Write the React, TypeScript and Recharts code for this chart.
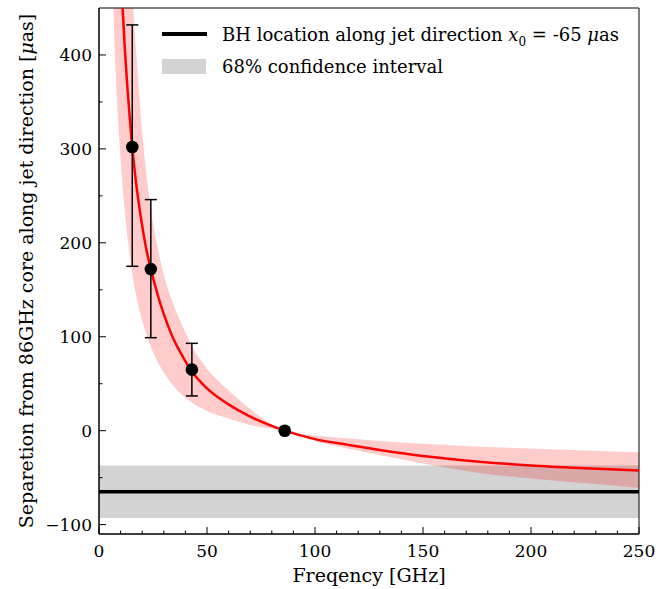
import {
  ComposedChart,
  XAxis,
  YAxis,
  Area,
  Line,
  Scatter,
  ErrorBar,
  ReferenceArea,
  Legend,
} from "recharts";

const SERIF = '"DejaVu Serif", serif';

// 68% band of the core-shift fit
const bandFreq = [6, 7, 8, 9, 10, 11, 12, 13, 14, 15, 16, 17, 18, 20, 22, 24, 27, 30, 34, 38, 43, 50, 60, 70, 86, 100, 115, 130, 150, 176, 200, 225, 250];
const bandLower = [510, 425, 365, 325, 290, 258, 232, 210, 190, 172, 158, 146, 135, 117, 102, 89, 74, 62, 49, 39, 30, 21, 13, 6, 0, -11, -19, -26, -35, -45, -51, -56, -61];
const bandUpper = [1400, 1180, 1010, 880, 780, 700, 640, 585, 535, 490, 448, 410, 378, 318, 272, 236, 196, 166, 137, 115, 90, 66, 43, 23, 0, -5, -8, -11, -14, -17, -19, -21, -23];

// best-fit curve
const fitFreq = [10, 11, 12, 13, 14, 15, 16, 17, 18, 20, 22, 24, 27, 30, 34, 38, 43, 50, 60, 70, 86, 100, 115, 130, 150, 176, 200, 225, 250];
const fitSep = [495, 447, 405, 370, 340, 312, 288, 267, 249, 218, 192, 172, 146, 124, 100, 82, 63, 45, 28, 15, 0, -9, -15, -20.5, -27, -33, -37, -40, -42.5];

// measured core positions
const obsFreq = [15.4, 24, 43, 86];
const obsSep = [302, 172, 65, 0];
const obsErrLow = [127, 73, 28, 0];
const obsErrHigh = [130, 74, 28, 0];

// BH location
const bhFreq = [0, 250];
const bhX0 = -65;
const bhLow = -93;
const bhHigh = -37;

const xTicks = [0, 10, 20, 30, 40, 50, 60, 70, 80, 90, 100, 110, 120, 130, 140, 150, 160, 170, 180, 190, 200, 210, 220, 230, 240, 250];
const yTicks = [-100, -50, 0, 50, 100, 150, 200, 250, 300, 350, 400];

const bandData = bandFreq.map((nu, i) => ({ nu, band: [bandLower[i], bandUpper[i]] }));
const fitData = fitFreq.map((nu, i) => ({ nu, sep: fitSep[i] }));
const obsData = obsFreq.map((nu, i) => ({ nu, sep: obsSep[i], err: [obsErrLow[i], obsErrHigh[i]] }));
const bhBandData = bhFreq.map((nu) => ({ nu, band: [bhLow, bhHigh] }));
const bhLineData = bhFreq.map((nu) => ({ nu, sep: bhX0 }));

const fmt = (v: number) => String(v).replace("-", "\u2212");

const XTick = (props: any) => {
  const { x, y, payload } = props;
  const major = payload.value % 50 === 0;
  return (
    <g>
      <line x1={x} x2={x} y1={y} y2={y - (major ? 7 : 3.5)} stroke="#000" strokeWidth={1} />
      {major && (
        <text x={x} y={y + 23} textAnchor="middle" fontFamily={SERIF} fontSize={17} fill="#000">
          {fmt(payload.value)}
        </text>
      )}
    </g>
  );
};

const YTick = (props: any) => {
  const { x, y, payload } = props;
  const major = payload.value % 100 === 0;
  return (
    <g>
      <line x1={x} x2={x + (major ? 7 : 3.5)} y1={y} y2={y} stroke="#000" strokeWidth={1} />
      {major && (
        <text x={x - 7} y={y} dy="0.35em" textAnchor="end" fontFamily={SERIF} fontSize={17} fill="#000">
          {fmt(payload.value)}
        </text>
      )}
    </g>
  );
};

const XTitle = (props: any) => {
  const vb = props.viewBox || { x: 99, y: 534, width: 540, height: 55 };
  return (
    <text x={vb.x + vb.width / 2} y={vb.y + 48} textAnchor="middle" fontFamily={SERIF} fontSize={19} fill="#000">
      Freqency [GHz]
    </text>
  );
};

const YTitle = (props: any) => {
  const vb = props.viewBox || { x: 0, y: 8, width: 99, height: 526 };
  const cx = vb.x + 33;
  const cy = vb.y + vb.height / 2;
  return (
    <text x={cx} y={cy} transform={`rotate(-90, ${cx}, ${cy})`} textAnchor="middle" fontFamily={SERIF} fontSize={19} fill="#000">
      Separetion from 86GHz core along jet direction [<tspan fontStyle="italic">μ</tspan>as]
    </text>
  );
};

const LegendBox = () => (
  <div style={{ fontFamily: SERIF, fontSize: 18, color: "#000", whiteSpace: "nowrap" }}>
    <div style={{ display: "flex", alignItems: "center", height: 32 }}>
      <span style={{ display: "inline-block", flexShrink: 0, width: 45, height: 3.5, background: "#000", marginRight: 15 }} />
      <span>
        BH location along jet direction <i>x</i>
        <sub style={{ fontSize: 12, lineHeight: 0 }}>0</sub> = -65 <i>μ</i>as
      </span>
    </div>
    <div style={{ display: "flex", alignItems: "center", height: 32 }}>
      <span style={{ display: "inline-block", flexShrink: 0, width: 44, height: 15, background: "#d3d3d3", marginRight: 16 }} />
      <span>68% confidence interval</span>
    </div>
  </div>
);

export default function App() {
  return (
    <div style={{ position: "absolute", left: 0, top: 0, width: 670, height: 589, background: "#fff" }}>
      <ComposedChart width={670} height={589} margin={{ top: 8, right: 31, bottom: 0, left: 0 }}>
        <XAxis
          dataKey="nu"
          type="number"
          domain={[0, 250]}
          ticks={xTicks}
          interval={0}
          allowDataOverflow
          tickSize={0}
          tickMargin={0}
          tickLine={false}
          tick={XTick}
          axisLine={{ stroke: "#000" }}
          height={55}
          label={XTitle}
        />
        <YAxis
          type="number"
          domain={[-110, 450]}
          ticks={yTicks}
          interval={0}
          allowDataOverflow
          tickSize={0}
          tickMargin={0}
          tickLine={false}
          tick={YTick}
          axisLine={{ stroke: "#000" }}
          width={99}
          label={YTitle}
        />
        <Area
          data={bhBandData}
          dataKey="band"
          type="linear"
          stroke="none"
          fill="#d3d3d3"
          fillOpacity={1}
          isAnimationActive={false}
          legendType="none"
        />
        <Area
          data={bandData}
          dataKey="band"
          type="monotone"
          stroke="none"
          fill="#ff0000"
          fillOpacity={0.2}
          isAnimationActive={false}
          legendType="none"
        />
        <Line
          data={bhLineData}
          dataKey="sep"
          type="linear"
          stroke="#000"
          strokeWidth={3.5}
          dot={false}
          isAnimationActive={false}
        />
        <Line
          data={fitData}
          dataKey="sep"
          type="monotone"
          stroke="#ff0000"
          strokeWidth={2.5}
          dot={false}
          isAnimationActive={false}
        />
        <Scatter
          data={obsData}
          dataKey="sep"
          isAnimationActive={false}
          shape={(p: any) => <circle cx={p.cx} cy={p.cy} r={6.3} fill="#000" />}
        >
          <ErrorBar dataKey="err" direction="y" width={6} stroke="#000" strokeWidth={1.5} />
        </Scatter>
        <ReferenceArea x1={0} x2={250} y1={-110} y2={450} fill="none" stroke="#000" strokeWidth={1} />
        <Legend
          layout="vertical"
          align="center"
          verticalAlign="middle"
          content={() => <LegendBox />}
          wrapperStyle={{ left: 162, top: 18, width: 470 }}
        />
      </ComposedChart>
    </div>
  );
}
